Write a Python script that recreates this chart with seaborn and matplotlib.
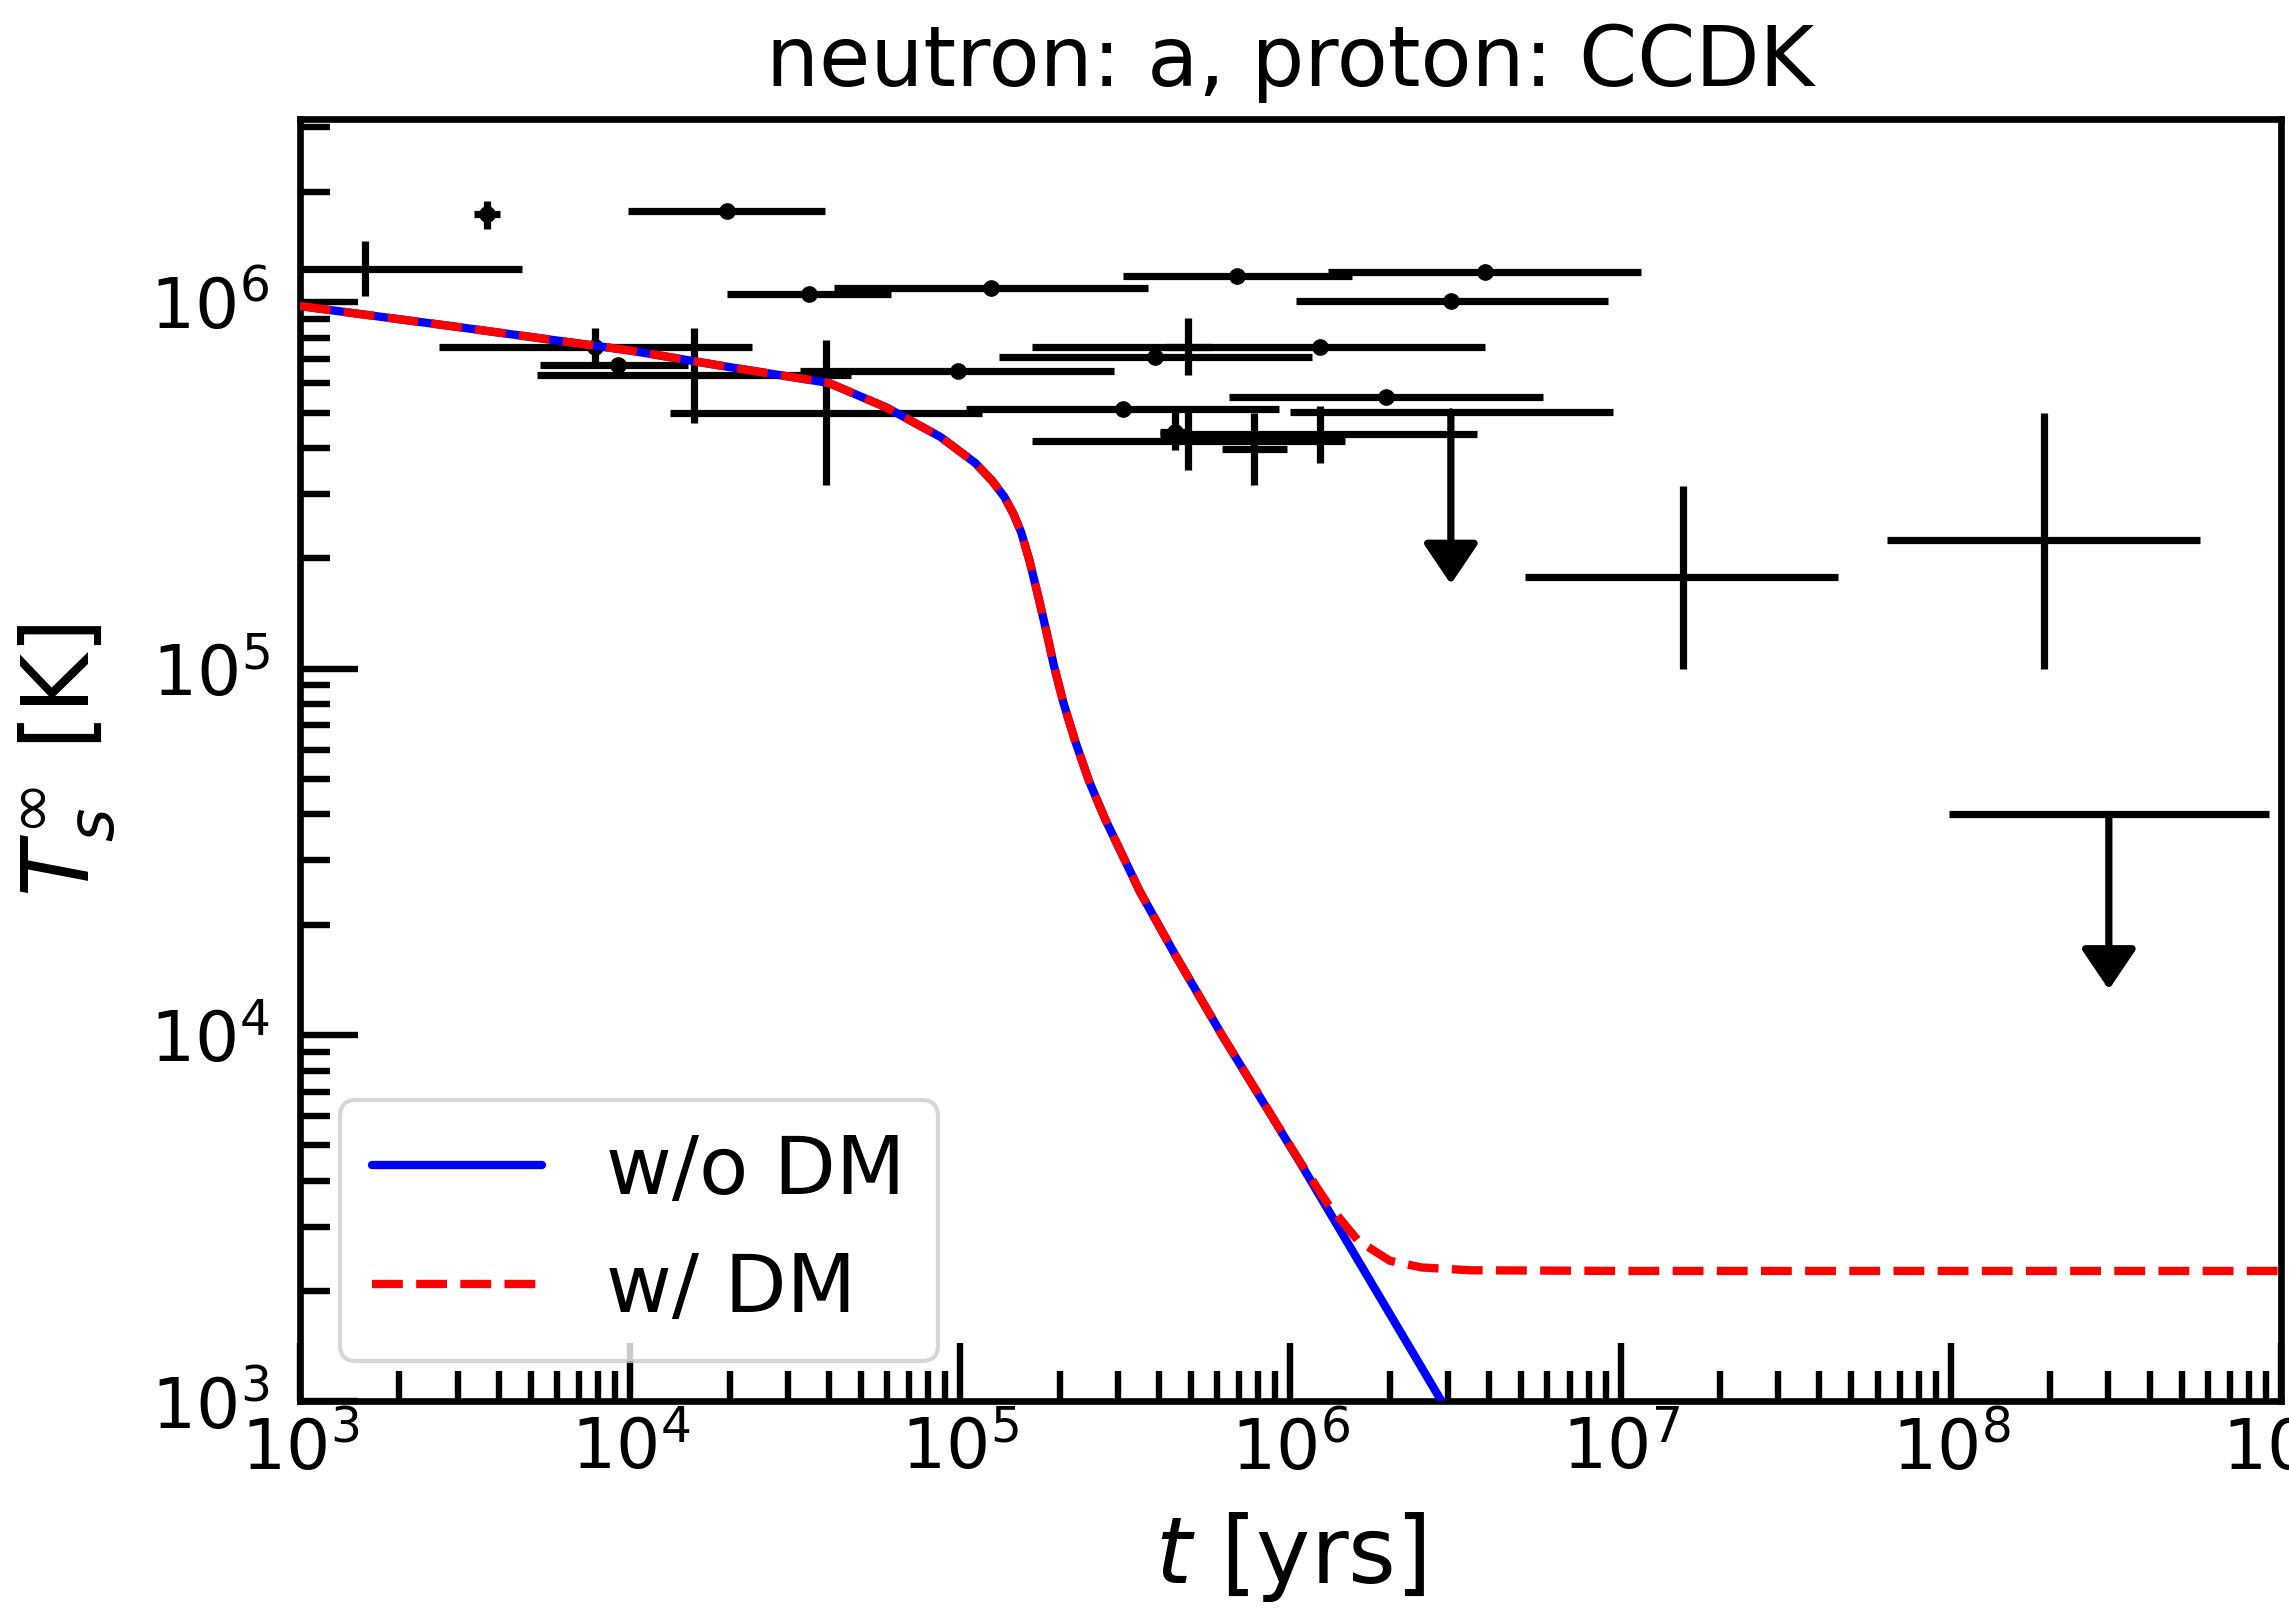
import numpy as np
import pandas as pd
import matplotlib
matplotlib.use("Agg")
import matplotlib.pyplot as plt
from matplotlib.ticker import LogLocator, NullFormatter
import seaborn as sns

# Cooling curves (t in yrs, T in K)
t_nodm = [1e3, 3e3, 1e4, 2e4, 4e4, 6e4, 8.7e4, 1.11e5, 1.25e5, 1.36e5, 1.45e5,
          1.53e5, 1.62e5, 1.72e5, 1.82e5, 1.92e5, 2.05e5, 2.22e5, 2.45e5, 2.74e5,
          3.5e5, 4.5e5, 6.2e5, 1.07e6, 2.87e6, 3.3e6]
T_nodm = [9.76e5, 8.56e5, 7.38e5, 6.65e5, 6.02e5, 5.15e5, 4.29e5, 3.64e5, 3.25e5,
          2.94e5, 2.64e5, 2.35e5, 1.97e5, 1.58e5, 1.27e5, 1.02e5, 8.1e4, 6.4e4,
          4.95e4, 3.9e4, 2.46e4, 1.64e4, 1.0e4, 4.48e3, 1.0e3, 8.1e2]

t_dm = [1e3, 3e3, 1e4, 2e4, 4e4, 6e4, 8.7e4, 1.11e5, 1.25e5, 1.36e5, 1.45e5,
        1.53e5, 1.62e5, 1.72e5, 1.82e5, 1.92e5, 2.05e5, 2.22e5, 2.45e5, 2.74e5,
        3.5e5, 4.5e5, 6.2e5, 1.07e6, 1.3e6, 1.6e6, 2.0e6, 2.5e6, 3.5e6, 1e7, 1e9]
T_dm = [9.76e5, 8.56e5, 7.38e5, 6.65e5, 6.02e5, 5.15e5, 4.29e5, 3.64e5, 3.25e5,
        2.94e5, 2.64e5, 2.35e5, 1.97e5, 1.58e5, 1.27e5, 1.02e5, 8.1e4, 6.4e4,
        4.95e4, 3.9e4, 2.46e4, 1.64e4, 1.0e4, 4.5e3, 3.45e3, 2.75e3, 2.42e3,
        2.32e3, 2.28e3, 2.27e3, 2.27e3]

# observed sources drawn with a dot
dot_t    = [3.68e3, 1.96e4, 3.48e4, 1.24e5, 6.88e5, 3.88e6, 3.06e6, 7.83e3, 9.18e3,
            9.81e4, 3.10e5, 1.94e6, 1.23e6, 3.89e5, 4.47e5]
dot_t_lo = [3.36e3, 9.85e3, 1.97e4, 4.14e4, 3.11e5, 1.30e6, 1.04e6, 2.63e3, 5.33e3,
            3.27e4, 1.04e5, 6.51e5, 1.65e5, 1.31e5, 4.02e5]
dot_t_hi = [4.03e3, 3.89e4, 6.16e4, 3.70e5, 1.54e6, 1.15e7, 9.15e6, 2.34e4, 1.50e4,
            2.92e5, 9.22e5, 5.80e6, 3.88e6, 1.16e6, 4.96e5]
dot_T    = [1.74e6, 1.77e6, 1.05e6, 1.09e6, 1.18e6, 1.21e6, 1.01e6, 7.57e5, 6.76e5,
            6.49e5, 5.11e5, 5.51e5, 7.56e5, 7.09e5, 4.42e5]
dot_T_lo = [1.58e6, 1.77e6, 1.05e6, 1.09e6, 1.18e6, 1.21e6, 1.01e6, 6.87e5, 6.76e5,
            6.49e5, 5.11e5, 5.51e5, 7.56e5, 7.09e5, 3.95e5]
dot_T_hi = [1.89e6, 1.77e6, 1.05e6, 1.09e6, 1.18e6, 1.21e6, 1.01e6, 8.50e5, 6.76e5,
            6.49e5, 5.11e5, 5.51e5, 7.56e5, 7.09e5, 5.02e5]

# observed sources drawn as plain crosses
cross_t    = [1.57e3, 1.56e4, 3.92e4, 4.89e5, 4.89e5, 7.75e5, 1.23e6, 1.54e7, 1.91e8]
cross_t_lo = [5.3e2, 5.24e3, 1.32e4, 4.17e5, 1.65e5, 6.20e5, 4.02e5, 5.13e6, 6.4e7]
cross_t_hi = [4.69e3, 4.66e4, 1.16e5, 5.78e5, 1.46e6, 9.75e5, 3.67e6, 4.55e7, 5.68e8]
cross_T    = [1.23e6, 6.33e5, 4.98e5, 7.56e5, 4.18e5, 3.97e5, 4.37e5, 1.78e5, 2.24e5]
cross_T_lo = [1.04e6, 4.69e5, 3.17e5, 6.33e5, 3.48e5, 3.17e5, 3.64e5, 1.0e5, 1.0e5]
cross_T_hi = [1.47e6, 8.50e5, 7.88e5, 9.06e5, 5.02e5, 4.98e5, 5.20e5, 3.15e5, 4.98e5]

# upper limits
ul_t     = [3.06e6, 3.01e8]
ul_t_lo  = [1.0e6, 9.86e7]
ul_t_hi  = [9.47e6, 9.2e8]
ul_T     = [5.02e5, 4.0e4]
ul_T_tip = [1.70e5, 1.33e4]

sns.set_style("white")
plt.rcParams["font.family"] = ["DejaVu Sans"]
plt.rcParams["mathtext.fontset"] = "dejavusans"
plt.rcParams["text.color"] = "black"
plt.rcParams["axes.labelcolor"] = "black"
plt.rcParams["xtick.color"] = "black"
plt.rcParams["ytick.color"] = "black"

fig = plt.figure(figsize=(2289 / 200, 1609 / 200), dpi=200)
ax = fig.add_axes([0.13106, 0.12902, 0.86544, 0.79702])
ax.set_xscale("log")
ax.set_yscale("log")

ebar_kw = dict(fmt="none", ecolor="black", elinewidth=2.6, capsize=0, zorder=2)


def asym(v, lo, hi):
    v, lo, hi = np.array(v), np.array(lo), np.array(hi)
    return [v - lo, hi - v]


ax.errorbar(dot_t, dot_T, xerr=asym(dot_t, dot_t_lo, dot_t_hi),
            yerr=asym(dot_T, dot_T_lo, dot_T_hi), **ebar_kw)
ax.plot(dot_t, dot_T, "o", color="black", markersize=5, zorder=2)
ax.errorbar(cross_t, cross_T, xerr=asym(cross_t, cross_t_lo, cross_t_hi),
            yerr=asym(cross_T, cross_T_lo, cross_T_hi), **ebar_kw)
ax.errorbar(ul_t, ul_T, xerr=asym(ul_t, ul_t_lo, ul_t_hi), **ebar_kw)
for t, T, tip in zip(ul_t, ul_T, ul_T_tip):
    ax.annotate("", xy=(t, tip), xytext=(t, T),
                arrowprops=dict(arrowstyle="-|>,head_length=0.4,head_width=0.27",
                                color="black", lw=2.6, shrinkA=0, shrinkB=0,
                                mutation_scale=31))

# curves
curves = pd.concat([
    pd.DataFrame({"t": t_nodm, "T": T_nodm, "model": "w/o DM"}),
    pd.DataFrame({"t": t_dm, "T": T_dm, "model": "w/ DM"}),
])
sns.lineplot(data=curves[curves.model == "w/o DM"], x="t", y="T", color="blue",
             lw=3, label="w/o DM", estimator=None, ax=ax, zorder=5)
sns.lineplot(data=curves[curves.model == "w/ DM"], x="t", y="T", color="red",
             lw=3, ls="--", label="w/ DM", estimator=None, ax=ax, zorder=6)

ax.set_xlim(1e3, 1e9)
ax.set_ylim(1e3, 10 ** 6.5)

for axis in (ax.xaxis, ax.yaxis):
    axis.set_major_locator(LogLocator(base=10, numticks=20))
    axis.set_minor_locator(LogLocator(base=10, subs=np.arange(2, 10), numticks=100))
    axis.set_minor_formatter(NullFormatter())

ax.tick_params(which="both", direction="in", bottom=True, left=True,
               top=False, right=False, width=2.3, color="black")
ax.tick_params(which="major", length=21, labelsize=25)
ax.tick_params(which="minor", length=10.8)
ax.tick_params(axis="x", which="major", pad=5)
ax.tick_params(axis="y", which="major", pad=11)
for s in ax.spines.values():
    s.set_linewidth(2.4)
    s.set_color("black")

ax.set_title("neutron: a, proton: CCDK", fontsize=30, pad=12)
ax.set_xlabel("$t$ [yrs]", fontsize=33)
ax.set_ylabel(r"$T_s^\infty$ [K]", fontsize=33)
ax.xaxis.set_label_coords(0.5, -0.085)
ax.yaxis.set_label_coords(-0.092, 0.5)

leg = ax.legend(loc="lower left", fontsize=29, frameon=True, handlelength=2.1)
leg.get_frame().set_edgecolor("0.8")
leg.get_frame().set_linewidth(1.5)

fig.savefig("out.png", dpi=200)
